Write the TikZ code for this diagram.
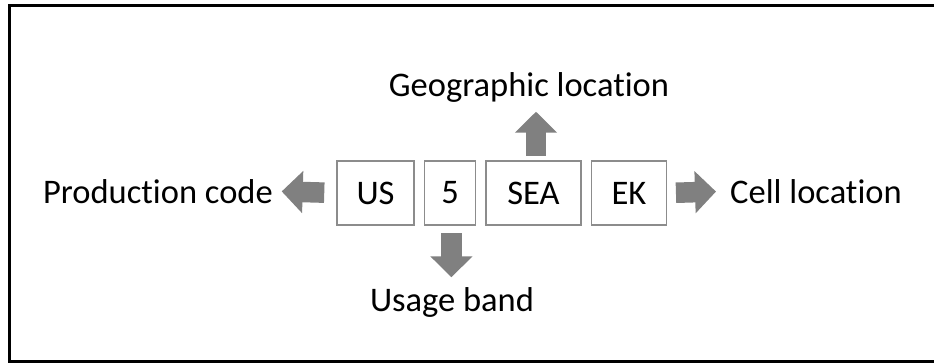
\documentclass[tikz,border=0pt]{standalone}
\usepackage{fontspec}
\setmainfont{Carlito}[Ligatures=NoCommon]
\usetikzlibrary{positioning,arrows.meta}

\begin{document}
\begin{tikzpicture}[x=1pt, y=-1pt, node distance=9pt, font=\fontsize{34.5}{40}\selectfont]
    % Styles
    \tikzstyle{field} = [rectangle, draw=black!45, line width=1.5pt, minimum height=64pt, inner sep=0pt]
    \tikzstyle{desc} = [inner sep=0pt]
    \tikzstyle{block} = [line width=20.5pt, draw=black!50, -{Triangle[width=41pt, length=21pt]}]

    \useasboundingbox (0,0) rectangle (934,362);
    \draw[line width=3pt] (9.5,5.5) rectangle (960,361.5);

    % Nodes
    \node[field, minimum width=77pt] (US) at (375.5,193) {US};
    \node[field, minimum width=51pt, right=9pt of US] (five) {5};
    \node[field, minimum width=95pt, right=9pt of five] (SEA) {SEA};
    \node[field, minimum width=75pt, right=9pt of SEA] (EK) {EK};

    \node[desc, anchor=base east] (prod) at (273,203) {Production code};
    \node[desc, anchor=base west] (cell) at (730,203) {Cell location};
    \node[desc, anchor=base] (geo) at (529,96.7) {Geographic location};
    \node[desc, anchor=base] (usage) at (452,311.7) {Usage band};

    % Arrows
    \draw[block, shorten <=12pt, shorten >=8.7pt] (US.west) -- (prod.east);
    \draw[block, shorten <=8.7pt, shorten >=14pt] (EK.east) -- (cell.west);
    \draw[block, shorten <=4.3pt, shorten >=15pt] ([xshift=2.5pt]SEA.north) -- ([xshift=2.5pt]SEA.north |- geo.base);
    \draw[block, shorten <=7.7pt, shorten >=34.4pt] ([xshift=1.4pt]five.south) -- ([xshift=1.4pt]five.south |- usage.base);

\end{tikzpicture}
\end{document}
